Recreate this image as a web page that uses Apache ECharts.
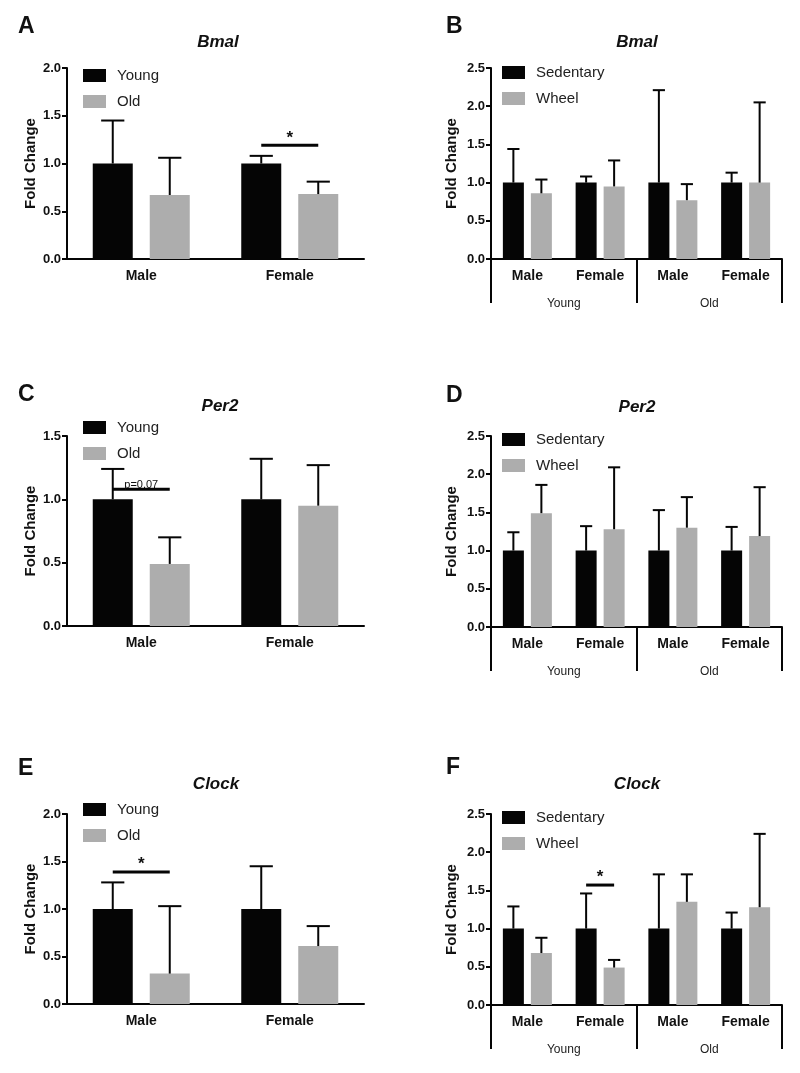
<!DOCTYPE html>
<html><head><meta charset="utf-8">
<script src="https://cdn.jsdelivr.net/npm/echarts@6/dist/echarts.min.js"></script>
<style>html,body{margin:0;padding:0;background:#fff}#c{width:800px;height:1073px}</style>
</head><body><div id="c"></div><script>
// ---------- data ----------
const sexCats = ['Male', 'Female'];
const ageSexCats = ['Male', 'Female', 'Male', 'Female'];
const ageGroups = ['Young', 'Old'];
const ageNames = ['Young', 'Old'];
const exerciseNames = ['Sedentary', 'Wheel'];
const panelLetters = ['A', 'B', 'C', 'D', 'E', 'F'];
const geneTitles = ['Bmal', 'Bmal', 'Per2', 'Per2', 'Clock', 'Clock'];
const yMaxes = [2.0, 2.5, 1.5, 2.5, 2.0, 2.5];
const yStep = 0.5;
const yName = 'Fold Change';

// A: Bmal, young vs old (mean, upper end of error bar)
const bmalYoungMean = [1.00, 1.00];
const bmalYoungTop  = [1.45, 1.08];
const bmalOldMean   = [0.67, 0.68];
const bmalOldTop    = [1.06, 0.81];
// B: Bmal, sedentary vs wheel (Young M, Young F, Old M, Old F)
const bmalSedMean   = [1.00, 1.00, 1.00, 1.00];
const bmalSedTop    = [1.44, 1.08, 2.21, 1.13];
const bmalWheelMean = [0.86, 0.95, 0.77, 1.00];
const bmalWheelTop  = [1.04, 1.29, 0.98, 2.05];
// C: Per2
const per2YoungMean = [1.00, 1.00];
const per2YoungTop  = [1.24, 1.32];
const per2OldMean   = [0.49, 0.95];
const per2OldTop    = [0.70, 1.27];
// D: Per2 exercise
const per2SedMean   = [1.00, 1.00, 1.00, 1.00];
const per2SedTop    = [1.24, 1.32, 1.53, 1.31];
const per2WheelMean = [1.49, 1.28, 1.30, 1.19];
const per2WheelTop  = [1.86, 2.09, 1.70, 1.83];
// E: Clock
const clockYoungMean = [1.00, 1.00];
const clockYoungTop  = [1.28, 1.45];
const clockOldMean   = [0.32, 0.61];
const clockOldTop    = [1.03, 0.82];
// F: Clock exercise
const clockSedMean   = [1.00, 1.00, 1.00, 1.00];
const clockSedTop    = [1.29, 1.46, 1.71, 1.21];
const clockWheelMean = [0.68, 0.49, 1.35, 1.28];
const clockWheelTop  = [0.88, 0.59, 1.71, 2.24];

// significance markers: category index, height, label
const sigA = { cats: [1], heights: [1.19], texts: ['*'] };
const sigC = { cats: [0], heights: [1.08], texts: ['p=0.07'] };
const sigE = { cats: [0], heights: [1.39], texts: ['*'] };
const sigF = { cats: [1], heights: [1.57], texts: ['*'] };

// ---------- style / layout ----------
const FONT = '"Liberation Sans", Arial, Helvetica, sans-serif';
const BLACK = '#050505', GREY = '#adadad', INK = '#111';

const panels = [
  { cats: sexCats, names: ageNames, means: [bmalYoungMean, bmalOldMean], tops: [bmalYoungTop, bmalOldTop], sig: sigA, groups: null },
  { cats: ageSexCats, names: exerciseNames, means: [bmalSedMean, bmalWheelMean], tops: [bmalSedTop, bmalWheelTop], sig: null, groups: ageGroups },
  { cats: sexCats, names: ageNames, means: [per2YoungMean, per2OldMean], tops: [per2YoungTop, per2OldTop], sig: sigC, groups: null },
  { cats: ageSexCats, names: exerciseNames, means: [per2SedMean, per2WheelMean], tops: [per2SedTop, per2WheelTop], sig: null, groups: ageGroups },
  { cats: sexCats, names: ageNames, means: [clockYoungMean, clockOldMean], tops: [clockYoungTop, clockOldTop], sig: sigE, groups: null },
  { cats: ageSexCats, names: exerciseNames, means: [clockSedMean, clockWheelMean], tops: [clockSedTop, clockWheelTop], sig: sigF, groups: ageGroups }
];
const layout = [
  { left: 67,  top: 68,  width: 297, height: 191, titleX: 218, titleY: 42,  letterX: 18,  letterY: 27,  legendLeft: 83,  legendTop: 68,  nameGap: 29, bw: 40, gap: 17 },
  { left: 491, top: 68,  width: 291, height: 191, titleX: 637, titleY: 42,  letterX: 446, letterY: 27,  legendLeft: 502, legendTop: 65,  nameGap: 32, bw: 21, gap: 7 },
  { left: 67,  top: 436, width: 297, height: 190, titleX: 220, titleY: 406, letterX: 18,  letterY: 395, legendLeft: 83,  legendTop: 420, nameGap: 29, bw: 40, gap: 17 },
  { left: 491, top: 436, width: 291, height: 191, titleX: 637, titleY: 407, letterX: 446, letterY: 396, legendLeft: 502, legendTop: 432, nameGap: 32, bw: 21, gap: 7 },
  { left: 67,  top: 814, width: 297, height: 190, titleX: 216, titleY: 784, letterX: 18,  letterY: 769, legendLeft: 83,  legendTop: 802, nameGap: 29, bw: 40, gap: 17 },
  { left: 491, top: 814, width: 291, height: 191, titleX: 637, titleY: 784, letterX: 446, letterY: 768, legendLeft: 502, legendTop: 810, nameGap: 32, bw: 21, gap: 7 }
];

function errRender(sign, bw, gap) {
  return function (params, api) {
    const cat = api.value(0);
    const base = api.coord([cat, api.value(1)]);
    const top = api.coord([cat, api.value(2)]);
    const x = base[0] + sign * (bw + gap) / 2;
    const cap = bw * 0.58 / 2;
    return { type: 'group', children: [
      { type: 'line', shape: { x1: x, y1: base[1], x2: x, y2: top[1] }, style: { stroke: BLACK, lineWidth: 2 } },
      { type: 'line', shape: { x1: x - cap, y1: top[1], x2: x + cap, y2: top[1] }, style: { stroke: BLACK, lineWidth: 2 } }
    ] };
  };
}
function sigRender(bw, gap, texts) {
  return function (params, api) {
    const p = api.coord([api.value(0), api.value(1)]);
    const half = (bw + gap) / 2;
    const t = texts[params.dataIndex];
    const star = t === '*';
    return { type: 'group', children: [
      { type: 'line', shape: { x1: p[0] - half, y1: p[1], x2: p[0] + half, y2: p[1] }, style: { stroke: BLACK, lineWidth: 3 } },
      { type: 'text', x: p[0], y: p[1] + 1,
        style: { text: t, align: 'center', verticalAlign: 'bottom', fill: INK,
          fontFamily: FONT, fontSize: star ? 17 : 11, fontWeight: star ? 'bold' : 'normal' } }
    ] };
  };
}

const grid = [], xAxis = [], yAxis = [], series = [], legend = [], graphic = [];
panels.forEach((p, i) => {
  const L = layout[i];
  grid.push({ left: L.left, top: L.top, width: L.width, height: L.height, containLabel: false });
  const mainX = xAxis.length;
  xAxis.push({
    type: 'category', gridIndex: i, data: p.cats, position: 'bottom',
    axisLine: { lineStyle: { color: BLACK, width: 2 } },
    axisTick: { alignWithLabel: true, length: 6, lineStyle: { color: BLACK, width: 2 } },
    axisLabel: { fontFamily: FONT, fontWeight: 'bold', fontSize: 14, color: INK, margin: 10 }
  });
  if (p.groups) {
    xAxis.push({
      type: 'category', gridIndex: i, data: p.groups, position: 'bottom', offset: 0,
      axisLine: { show: false },
      axisTick: { show: true, length: 44, lineStyle: { color: BLACK, width: 2 } },
      axisLabel: { fontFamily: FONT, fontSize: 12, color: '#222', margin: 39 }
    });
  }
  yAxis.push({
    type: 'value', gridIndex: i, min: 0, max: yMaxes[i], interval: yStep,
    name: yName, nameLocation: 'middle', nameGap: L.nameGap,
    nameTextStyle: { fontFamily: FONT, fontWeight: 'bold', fontSize: 15, color: INK },
    axisLine: { show: true, lineStyle: { color: BLACK, width: 2 } },
    axisTick: { show: true, length: 5, lineStyle: { color: BLACK, width: 2 } },
    splitLine: { show: false },
    axisLabel: { fontFamily: FONT, fontWeight: 'bold', fontSize: 13, color: INK, margin: 6,
      formatter: v => v.toFixed(1) }
  });
  const colors = [BLACK, GREY];
  const barGap = (L.gap / L.bw * 100).toFixed(1) + '%';
  p.names.forEach((nm, s) => {
    series.push({
      type: 'bar', name: nm, xAxisIndex: mainX, yAxisIndex: i,
      data: p.means[s], barWidth: L.bw, barGap: barGap,
      itemStyle: { color: colors[s] }, z: 2, silent: true
    });
  });
  p.names.forEach((nm, s) => {
    series.push({
      type: 'custom', name: 'err' + i + s, xAxisIndex: mainX, yAxisIndex: i,
      data: p.means[s].map((m, k) => [k, m, p.tops[s][k]]),
      encode: { x: 0, y: [1, 2] },
      renderItem: errRender(s === 0 ? -1 : 1, L.bw, L.gap), z: 3, silent: true
    });
  });
  if (p.sig) {
    series.push({
      type: 'custom', name: 'sig' + i, xAxisIndex: mainX, yAxisIndex: i,
      data: p.sig.cats.map((c, k) => [c, p.sig.heights[k]]),
      encode: { x: 0, y: 1 },
      renderItem: sigRender(L.bw, L.gap, p.sig.texts), z: 4, silent: true
    });
  }
  legend.push({
    data: p.names.map(n => ({ name: n, icon: 'rect' })),
    orient: 'vertical', left: L.legendLeft, top: L.legendTop, padding: 0,
    itemWidth: 23, itemHeight: 13, itemGap: 11, selectedMode: false,
    textStyle: { fontFamily: FONT, fontSize: 15, color: '#222', padding: [0, 0, 0, 6] }
  });
  graphic.push({ type: 'text', x: L.letterX, y: L.letterY,
    style: { text: panelLetters[i], fontFamily: FONT, fontWeight: 'bold', fontSize: 23, fill: INK, align: 'left', verticalAlign: 'middle' } });
  graphic.push({ type: 'text', x: L.titleX, y: L.titleY,
    style: { text: geneTitles[i], fontFamily: FONT, fontWeight: 'bold', fontStyle: 'italic', fontSize: 17, fill: INK, align: 'center', verticalAlign: 'middle' } });
});

const chart = echarts.init(document.getElementById('c'), null, { renderer: 'canvas' });
chart.setOption({
  backgroundColor: '#fff', animation: false,
  grid, xAxis, yAxis, series, legend, graphic
});
</script></body></html>
